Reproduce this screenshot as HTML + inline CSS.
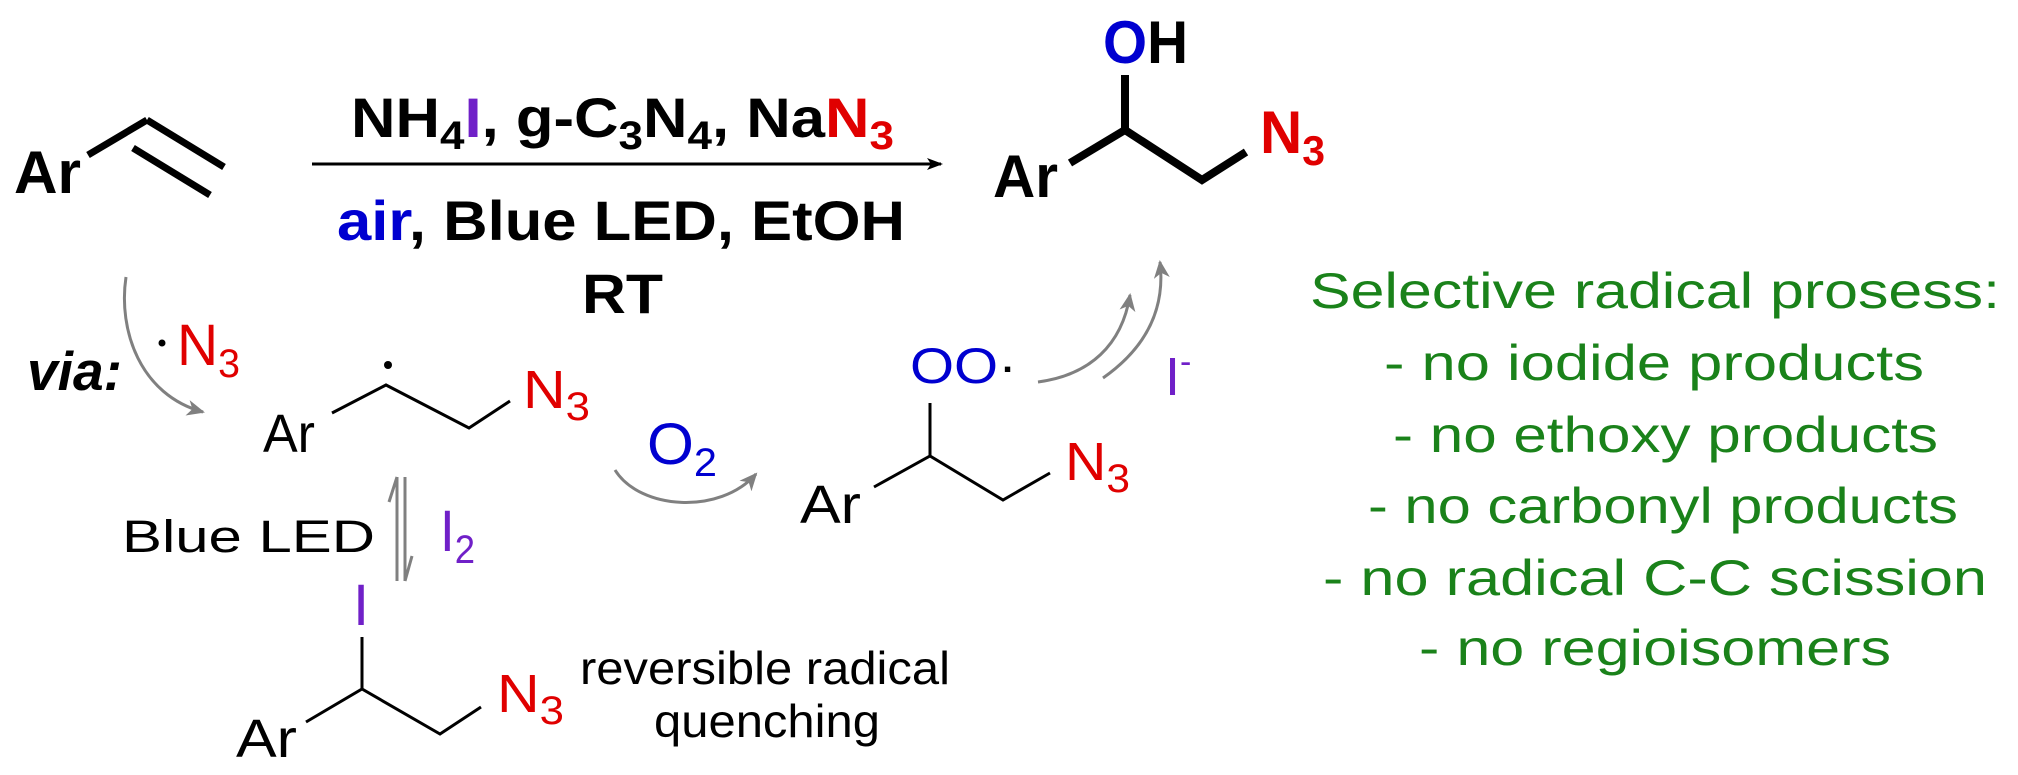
<!DOCTYPE html>
<html><head><meta charset="utf-8"><style>
html,body{margin:0;padding:0;background:#fff;}
svg{display:block;}
text{font-family:"Liberation Sans",Arial,sans-serif;}
.b{font-weight:bold;}
</style></head><body>
<svg width="2018" height="775" viewBox="0 0 2018 775" xmlns="http://www.w3.org/2000/svg">
<defs>
<marker id="ah" markerWidth="16" markerHeight="12" refX="14" refY="6" orient="auto" markerUnits="userSpaceOnUse"><path d="M0,0 L16,6 L0,12 L4,6 Z" fill="#000"/></marker>
<marker id="gh" markerWidth="20" markerHeight="16" refX="16" refY="8" orient="auto" markerUnits="userSpaceOnUse"><path d="M0,0 L18,8 L0,16 L5,8 Z" fill="#808080"/></marker>
</defs>

<!-- starting alkene -->
<text x="14" y="193" class="b" font-size="60" textLength="67" lengthAdjust="spacingAndGlyphs">Ar</text>
<g stroke="#000" stroke-width="7" fill="none">
<line x1="88" y1="155" x2="147" y2="120"/>
<line x1="147" y1="120" x2="224" y2="167"/>
<line x1="133" y1="148" x2="210" y2="195"/>
</g>

<!-- main arrow -->
<line x1="312" y1="164" x2="941" y2="164" stroke="#000" stroke-width="3" marker-end="url(#ah)"/>
<text x="351" y="137" class="b" font-size="56" textLength="543" lengthAdjust="spacingAndGlyphs">NH<tspan font-size="40" dy="12">4</tspan><tspan dy="-12" fill="#7020c8">I</tspan>, g-C<tspan font-size="40" dy="12">3</tspan><tspan dy="-12">N</tspan><tspan font-size="40" dy="12">4</tspan><tspan dy="-12">, Na</tspan><tspan fill="#e00000">N<tspan font-size="40" dy="12">3</tspan></tspan></text>
<text x="337" y="240" class="b" font-size="56" textLength="568" lengthAdjust="spacingAndGlyphs"><tspan fill="#0000d0">air</tspan>, Blue LED, EtOH</text>
<text x="582" y="313" class="b" font-size="56" textLength="81" lengthAdjust="spacingAndGlyphs">RT</text>

<!-- product -->
<text x="993" y="197" class="b" font-size="60" textLength="65" lengthAdjust="spacingAndGlyphs">Ar</text>
<text x="1103" y="63" class="b" font-size="60" textLength="85" lengthAdjust="spacingAndGlyphs"><tspan fill="#0000d0">O</tspan>H</text>
<g stroke="#000" stroke-width="8" fill="none" stroke-linejoin="miter">
<line x1="1070" y1="163" x2="1125" y2="130"/>
<line x1="1125" y1="130" x2="1125" y2="75"/>
<polyline points="1125,130 1202,180 1246,152"/>
</g>
<text x="1260" y="153" class="b" font-size="60" fill="#e00000" textLength="65" lengthAdjust="spacingAndGlyphs">N<tspan font-size="42" dy="12">3</tspan></text>

<!-- via -->
<text x="27" y="390" class="b" font-size="55" font-style="italic" textLength="95" lengthAdjust="spacingAndGlyphs">via:</text>
<path d="M126,277 C118,330 140,395 203,412" stroke="#808080" stroke-width="3" fill="none" marker-end="url(#gh)"/>
<circle cx="162" cy="343" r="3.5" fill="#000"/>
<text x="177" y="365" font-size="58" fill="#e00000" textLength="63" lengthAdjust="spacingAndGlyphs">N<tspan font-size="40" dy="12">3</tspan></text>

<!-- radical -->
<text x="263" y="452" font-size="54" textLength="52" lengthAdjust="spacingAndGlyphs">Ar</text>
<circle cx="388" cy="365" r="4" fill="#000"/>
<polyline points="332,413 386,385 469,428 510,401" stroke="#000" stroke-width="3" fill="none"/>
<text x="523" y="408" font-size="54" fill="#e00000" textLength="67" lengthAdjust="spacingAndGlyphs">N<tspan font-size="40" dy="12">3</tspan></text>

<!-- equilibrium -->
<text x="122" y="552" font-size="45" textLength="253" lengthAdjust="spacingAndGlyphs">Blue LED</text>
<line x1="397" y1="581" x2="397" y2="477" stroke="#808080" stroke-width="3"/>
<path d="M397,477 L389,502" stroke="#808080" stroke-width="3"/>
<line x1="405" y1="477" x2="405" y2="581" stroke="#808080" stroke-width="3"/>
<path d="M405,581 L412,556" stroke="#808080" stroke-width="3"/>
<text x="440" y="551" font-size="58" fill="#7020c8" textLength="35" lengthAdjust="spacingAndGlyphs">I<tspan font-size="40" dy="12">2</tspan></text>

<!-- iodo compound -->
<text x="353" y="625" font-size="58" fill="#7020c8">I</text>
<g stroke="#000" stroke-width="3" fill="none">
<line x1="362" y1="637" x2="362" y2="689"/>
<polyline points="306,722 362,689 440,734 481,707"/>
</g>
<text x="236" y="757" font-size="54" textLength="61" lengthAdjust="spacingAndGlyphs">Ar</text>
<text x="497" y="712" font-size="54" fill="#e00000" textLength="67" lengthAdjust="spacingAndGlyphs">N<tspan font-size="40" dy="12">3</tspan></text>
<text x="580" y="684" font-size="46" textLength="370" lengthAdjust="spacingAndGlyphs">reversible radical</text>
<text x="654" y="737" font-size="46" textLength="226" lengthAdjust="spacingAndGlyphs">quenching</text>

<!-- O2 arrow -->
<text x="647" y="464" font-size="58" fill="#0000d0" textLength="70" lengthAdjust="spacingAndGlyphs">O<tspan font-size="40" dy="12">2</tspan></text>
<path d="M615,470 C640,510 720,515 756,474" stroke="#808080" stroke-width="3" fill="none" marker-end="url(#gh)"/>

<!-- peroxy -->
<text x="910" y="383" font-size="50" fill="#0000d0" textLength="107" lengthAdjust="spacingAndGlyphs">OO<tspan fill="#000">·</tspan></text>
<g stroke="#000" stroke-width="3" fill="none">
<line x1="930" y1="403" x2="930" y2="456"/>
<polyline points="874,487 930,456 1003,500 1050,473"/>
</g>
<text x="800" y="523" font-size="54" textLength="61" lengthAdjust="spacingAndGlyphs">Ar</text>
<text x="1065" y="480" font-size="54" fill="#e00000" textLength="65" lengthAdjust="spacingAndGlyphs">N<tspan font-size="40" dy="12">3</tspan></text>

<!-- final arrows -->
<path d="M1038,382 C1090,375 1122,345 1130,295" stroke="#808080" stroke-width="3" fill="none" marker-end="url(#gh)"/>
<path d="M1103,378 C1150,345 1165,305 1160,262" stroke="#808080" stroke-width="3" fill="none" marker-end="url(#gh)"/>
<text x="1165" y="395" font-size="54" fill="#7020c8">I<tspan font-size="34" dy="-22">-</tspan></text>

<!-- green text -->
<g fill="#1a821a" font-size="50">
<text x="1310" y="308" textLength="690" lengthAdjust="spacingAndGlyphs">Selective radical prosess:</text>
<text x="1384" y="380" textLength="540" lengthAdjust="spacingAndGlyphs">- no iodide products</text>
<text x="1393" y="452" textLength="545" lengthAdjust="spacingAndGlyphs">- no ethoxy products</text>
<text x="1368" y="523" textLength="590" lengthAdjust="spacingAndGlyphs">- no carbonyl products</text>
<text x="1323" y="595" textLength="664" lengthAdjust="spacingAndGlyphs">- no radical C-C scission</text>
<text x="1419" y="665" textLength="472" lengthAdjust="spacingAndGlyphs">- no regioisomers</text>
</g>
</svg>
</body></html>
